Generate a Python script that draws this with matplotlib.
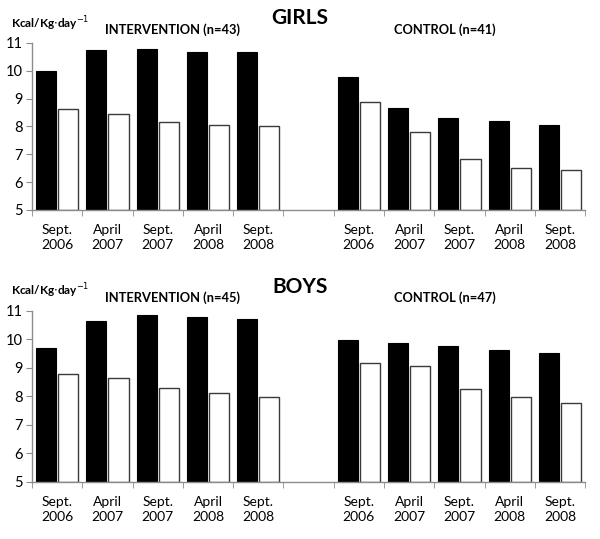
import matplotlib.pyplot as plt
import numpy as np

plt.rcParams['font.family'] = ['Lato', 'DejaVu Sans']

periods = ['Sept.\n2006', 'April\n2007', 'Sept.\n2007', 'April\n2008', 'Sept.\n2008']

# girls
girls_int_black = [9.98, 10.74, 10.78, 10.66, 10.69]
girls_int_white = [8.63, 8.44, 8.15, 8.06, 8.00]
girls_ctl_black = [9.78, 8.66, 8.30, 8.20, 8.04]
girls_ctl_white = [8.88, 7.80, 6.84, 6.52, 6.43]

# boys
boys_int_black = [9.68, 10.65, 10.85, 10.79, 10.70]
boys_int_white = [8.79, 8.63, 8.28, 8.13, 7.97]
boys_ctl_black = [9.96, 9.87, 9.77, 9.63, 9.52]
boys_ctl_white = [9.15, 9.06, 8.27, 7.98, 7.75]

yticks = [5, 6, 7, 8, 9, 10, 11]

fig = plt.figure(figsize=(6.0, 5.39), dpi=100)
ax_top = fig.add_axes([0.0533, 0.6104, 0.922, 0.310])
ax_bot = fig.add_axes([0.0533, 0.1058, 0.922, 0.318])

axis_col = '#8c8c8c'


def draw_panel(ax, int_black, int_white, ctl_black, ctl_white, n_int, n_ctl):
    # 11 slots: 5 intervention, 1 empty, 5 control
    pos = np.concatenate([np.arange(5), np.arange(6, 11)]) + 0.5
    black = list(int_black) + list(ctl_black)
    white = list(int_white) + list(ctl_white)
    w = 0.4
    ax.bar(pos - 0.22, np.array(black) - 5, bottom=5, width=w,
           color='black', edgecolor='black', linewidth=0.8)
    ax.bar(pos + 0.22, np.array(white) - 5, bottom=5, width=w,
           color='white', edgecolor='#3a3a3a', linewidth=1.0)

    ax.set_xlim(0, 11)
    ax.set_ylim(5, 11)
    ax.set_yticks(yticks)
    ax.tick_params(axis='y', labelsize=10.5, length=4, color=axis_col, pad=3)

    ax.set_xticks(pos)
    ax.set_xticklabels(periods * 2, fontsize=10, linespacing=1.3)
    ax.set_xticks(np.arange(12), minor=True)
    ax.tick_params(axis='x', which='major', length=0, pad=10)
    ax.tick_params(axis='x', which='minor', length=4, color=axis_col)

    for s in ['top', 'right']:
        ax.spines[s].set_visible(False)
    for s in ['left', 'bottom']:
        ax.spines[s].set_color(axis_col)
        ax.spines[s].set_linewidth(1.0)

    ax.text(0.254, 1.04, 'INTERVENTION (n=%d)' % n_int, transform=ax.transAxes,
            ha='center', va='bottom', fontsize=9.3, fontweight='bold')
    ax.text(0.747, 1.04, 'CONTROL (n=%d)' % n_ctl, transform=ax.transAxes,
            ha='center', va='bottom', fontsize=9.3, fontweight='bold')
    ax.text(-0.038, 1.06, r'Kcal/Kg$\cdot$day$^{-1}$', transform=ax.transAxes,
            ha='left', va='bottom', fontsize=8.5, fontweight='bold')


draw_panel(ax_top, girls_int_black, girls_int_white, girls_ctl_black, girls_ctl_white, 43, 41)
draw_panel(ax_bot, boys_int_black, boys_int_white, boys_ctl_black, boys_ctl_white, 45, 47)

fig.text(0.5, 0.966, 'GIRLS', ha='center', va='center', fontsize=15, fontweight='bold')
fig.text(0.5, 0.467, 'BOYS', ha='center', va='center', fontsize=15, fontweight='bold')

fig.savefig('out.png', dpi=100)
